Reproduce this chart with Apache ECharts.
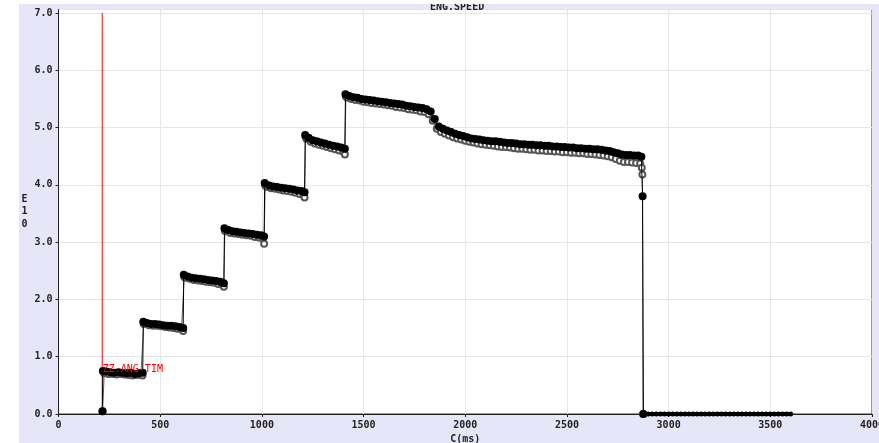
<!DOCTYPE html>
<html>
<head>
<meta charset="utf-8">
<script src="https://cdn.jsdelivr.net/npm/echarts@6/dist/echarts.min.js"></script>
<style>
html,body{margin:0;padding:0;background:#fff;width:879px;height:443px;overflow:hidden;}
#c{position:absolute;left:19px;top:4px;width:860px;height:439px;}
</style>
</head>
<body>
<div id="c"></div>
<script>
// x tick labels (ms) and y tick labels
const xTicks = [0, 500, 1000, 1500, 2000, 2500, 3000, 3500, 4000];
const yTicks = [0, 1, 2, 3, 4, 5, 6, 7];

// black series (filled markers)
const tBlack = [216,218,235,255,275,295,315,335,355,375,395,414,
  417,435,455,475,495,515,535,555,575,595,613,
  616,635,655,675,695,715,735,755,775,795,813,
  816,835,855,875,895,915,935,955,975,995,1011,
  1014,1035,1055,1075,1095,1115,1135,1155,1175,1195,1210,
  1213,1230,1250,1270,1290,1310,1330,1350,1370,1390,1408,
  1411,1430,1450,1470,1490,1510,1530,1550,1570,1590,1610,1630,1650,1670,1690,1710,1730,1750,1770,1790,
  1810,1830,1850,1870,1890,1910,1930,1950,1970,1990,2010,2030,2050,2070,2090,2110,2130,2150,2170,2190,
  2210,2230,2250,2270,2290,2310,2330,2350,2370,2390,2410,2430,2450,2470,2490,2510,2530,2550,2570,2590,
  2610,2630,2650,2670,2690,2710,2730,2750,2770,2790,2810,2830,2850,2866,2872,2876];
const vBlack = [0.05,0.75,0.74,0.73,0.72,0.73,0.72,0.71,0.72,0.70,0.71,0.72,
  1.61,1.59,1.57,1.57,1.56,1.55,1.54,1.54,1.53,1.52,1.50,
  2.43,2.40,2.38,2.37,2.36,2.35,2.34,2.33,2.32,2.31,2.28,
  3.24,3.21,3.19,3.18,3.17,3.16,3.15,3.14,3.13,3.12,3.10,
  4.03,3.99,3.97,3.96,3.95,3.94,3.93,3.92,3.90,3.89,3.87,
  4.87,4.82,4.78,4.76,4.74,4.72,4.70,4.68,4.67,4.65,4.63,
  5.58,5.55,5.53,5.52,5.50,5.49,5.48,5.47,5.46,5.45,5.44,5.43,5.42,5.41,5.40,5.38,5.37,5.36,5.35,5.34,
  5.32,5.28,5.15,5.02,4.98,4.95,4.92,4.89,4.87,4.85,4.83,4.81,4.80,4.79,4.78,4.77,4.76,4.76,4.75,4.74,
  4.73,4.73,4.72,4.71,4.71,4.70,4.70,4.69,4.69,4.68,4.68,4.67,4.67,4.66,4.66,4.65,4.65,4.64,4.64,4.63,
  4.63,4.62,4.62,4.61,4.60,4.59,4.57,4.55,4.53,4.52,4.52,4.51,4.51,4.49,3.80,0.00];

// black series after cut-off (zero readings)
const tZero = [2880,2900,2920,2940,2960,2980,3000,3020,3040,3060,3080,3100,3120,3140,3160,3180,3200,3220,3240,
  3260,3280,3300,3320,3340,3360,3380,3400,3420,3440,3460,3480,3500,3520,3540,3560,3580,3600];
const vZero = [0,0,0,0,0,0,0,0,0,0,0,0,0,0,0,0,0,0,0,0,0,0,0,0,0,0,0,0,0,0,0,0,0,0,0,0,0];

// grey series (hollow markers)
const tGrey = [217,225,245,265,285,305,325,345,365,385,405,413,
  419,425,445,465,485,505,525,545,565,585,605,613,
  618,625,645,665,685,705,725,745,765,785,805,813,
  818,825,845,865,885,905,925,945,965,985,1005,1011,
  1016,1025,1045,1065,1085,1105,1125,1145,1165,1185,1205,1210,
  1215,1220,1240,1260,1280,1300,1320,1340,1360,1380,1400,1408,
  1413,1420,1440,1460,1480,1500,1520,1540,1560,1580,1600,1620,1640,1660,1680,1700,1720,1740,1760,1780,
  1800,1820,1840,1860,1880,1900,1920,1940,1960,1980,2000,2020,2040,2060,2080,2100,2120,2140,2160,2180,
  2200,2220,2240,2260,2280,2300,2320,2340,2360,2380,2400,2420,2440,2460,2480,2500,2520,2540,2560,2580,
  2600,2620,2640,2660,2680,2700,2720,2740,2760,2780,2800,2820,2840,2860,2868,2871,2874];
const vGrey = [0.05,0.71,0.70,0.70,0.69,0.70,0.69,0.68,0.67,0.68,0.68,0.67,
  1.57,1.58,1.55,1.54,1.54,1.53,1.52,1.51,1.50,1.49,1.48,1.45,
  2.39,2.38,2.36,2.34,2.33,2.32,2.31,2.30,2.29,2.27,2.26,2.22,
  3.20,3.19,3.16,3.15,3.14,3.13,3.12,3.11,3.09,3.08,3.06,2.97,
  3.99,3.96,3.94,3.93,3.92,3.90,3.89,3.88,3.86,3.84,3.82,3.78,
  4.83,4.80,4.75,4.72,4.70,4.68,4.66,4.64,4.62,4.60,4.58,4.53,
  5.54,5.52,5.50,5.48,5.47,5.45,5.44,5.43,5.42,5.41,5.40,5.39,5.38,5.36,5.35,5.34,5.32,5.31,5.30,5.28,
  5.27,5.23,5.12,4.98,4.92,4.89,4.86,4.83,4.81,4.79,4.77,4.75,4.74,4.72,4.71,4.70,4.69,4.68,4.67,4.66,
  4.66,4.65,4.64,4.63,4.63,4.62,4.61,4.61,4.60,4.60,4.59,4.59,4.58,4.58,4.57,4.57,4.56,4.56,4.55,4.55,
  4.54,4.54,4.53,4.52,4.51,4.50,4.48,4.45,4.42,4.40,4.40,4.39,4.38,4.37,4.30,4.18,0.00];

// event marker
const eventTime = 215;
const eventTop = 7.0;
const eventLabel = 'ZZ.ANG-TIM';
const eventLabelY = 0.78;
const chartTitle = 'ENG.SPEED';
const xName = 'C(ms)';
const yName = 'E\n1\n0';

const zip = (a, b) => a.map((t, i) => [t, b[i]]);
const font = 'DejaVu Sans Mono';

const chart = echarts.init(document.getElementById('c'));
chart.setOption({
  animation: false,
  backgroundColor: '#E6E6F8',
  title: {
    text: chartTitle, left: 406, top: -7,
    textStyle: {fontFamily: font, fontSize: 10, fontWeight: 'bold', color: '#222'}
  },
  grid: {left: 39.5, right: 7, top: 5.5, bottom: 29, show: true,
    outerBoundsMode: 'none', containLabel: false,
    backgroundColor: '#ffffff', borderColor: '#333', borderWidth: 1},
  xAxis: {
    type: 'value', min: xTicks[0], max: xTicks[xTicks.length - 1], interval: 500,
    offset: 2,
    name: xName, nameLocation: 'middle', nameGap: 15,
    nameTextStyle: {fontFamily: font, fontSize: 10, fontWeight: 'bold', color: '#222'},
    axisLine: {show: true, lineStyle: {color: '#222', width: 1}},
    axisTick: {show: true, length: 3, lineStyle: {color: '#222'}},
    axisLabel: {margin: 4, fontFamily: font, fontSize: 10, fontWeight: 'bold', color: '#222',
      formatter: v => String(v)},
    splitLine: {show: true, lineStyle: {color: '#e6e6e6', width: 1}}
  },
  yAxis: {
    type: 'value', min: yTicks[0], max: 7.06, interval: 1,
    offset: 3,
    name: yName, nameLocation: 'middle', nameGap: 28, nameRotate: 0,
    nameTextStyle: {fontFamily: font, fontSize: 10, fontWeight: 'bold', color: '#222', lineHeight: 12.5},
    axisLine: {show: true, lineStyle: {color: '#222', width: 1}},
    axisTick: {show: true, length: 3, lineStyle: {color: '#222'}},
    axisLabel: {margin: 3, showMaxLabel: false, fontFamily: font, fontSize: 10, fontWeight: 'bold', color: '#222',
      formatter: v => v.toFixed(1)},
    splitLine: {show: true, lineStyle: {color: '#e6e6e6', width: 1}}
  },
  series: [
    {
      type: 'line', name: 'event', data: [[eventTime, 0], [eventTime, eventTop]],
      symbol: 'none', lineStyle: {color: '#ff0000', width: 1}, z: 1,
      markPoint: {
        symbol: 'circle', symbolSize: 1, itemStyle: {color: 'rgba(0,0,0,0)'},
        data: [{coord: [eventTime, eventLabelY]}],
        label: {show: true, position: 'right', distance: 0, formatter: eventLabel,
          fontFamily: font, fontSize: 10, color: '#ff0000'}
      }
    },
    {
      type: 'line', name: 'grey', data: zip(tGrey, vGrey),
      symbol: 'emptyCircle', symbolSize: 6, showAllSymbol: true,
      itemStyle: {color: '#555', borderWidth: 1.2},
      lineStyle: {color: '#666', width: 1}, z: 2
    },
    {
      type: 'line', name: 'black', data: zip(tBlack, vBlack),
      symbol: 'circle', symbolSize: 8, showAllSymbol: true,
      itemStyle: {color: '#000'},
      lineStyle: {color: '#000', width: 1}, z: 3
    },
    {
      type: 'line', name: 'zero', data: zip(tZero, vZero),
      symbol: 'circle', symbolSize: 5, showAllSymbol: true,
      itemStyle: {color: '#000'},
      lineStyle: {color: '#000', width: 4}, z: 3
    }
  ]
});
</script>
</body>
</html>
